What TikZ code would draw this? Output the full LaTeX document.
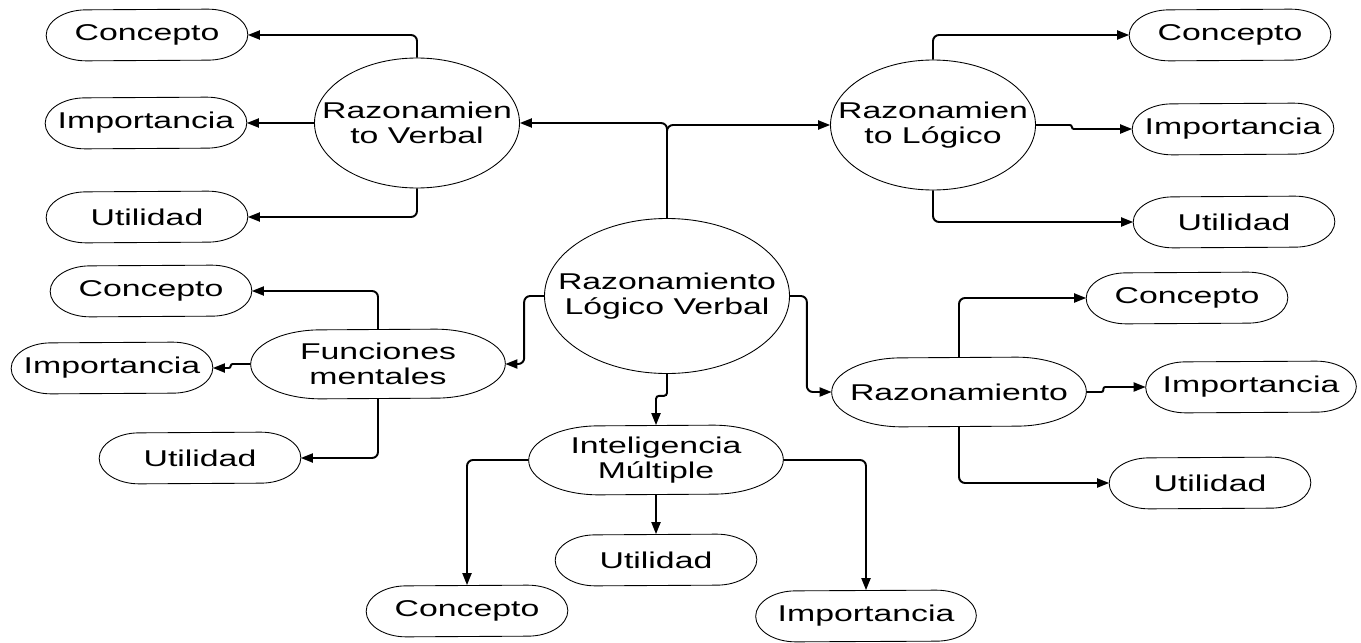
\documentclass[tikz,border=0pt]{standalone}
\usepackage{fontspec}
\setmainfont[FakeStretch=1.48]{Liberation Sans}
\usetikzlibrary{arrows.meta,calc}
\newcommand{\leafrx}{40}
\newcommand{\leafry}{25.5}
% outline of a pill round a named node: node, end radius x, end radius y
\newcommand{\pill}[3]{%
\draw[outline] ($(#1.north east)+(-#2,0)$) arc[start angle=90, end angle=-90, x radius=#2, y radius=#3]
 -- ($(#1.south west)+(#2,0)$) arc[start angle=270, end angle=90, x radius=#2, y radius=#3] -- cycle;}

\begin{document}
\begin{tikzpicture}[x=0.02cm, y=0.02cm,
 every node/.style={font=\fontsize{13}{14.2}\selectfont, inner sep=0pt, align=center},
 leaf/.style={minimum width=4.02cm, minimum height=1.02cm},
 branch/.style={minimum width=5.08cm, minimum height=1.38cm},
 topic/.style={minimum width=4.1cm, minimum height=2.6cm},
 root/.style={minimum width=4.9cm, minimum height=3.1cm},
 outline/.style={line width=0.5pt},
 conn/.style={line width=1.1pt, rounded corners=0.12cm, -{Triangle[length=0.24cm, width=0.18cm]}}]
\useasboundingbox (0,0) rectangle (1361,-642);
% main ideas
\node[root] (lv) at (667,-296) {Razonamiento\\Lógico Verbal};
\node[topic] (rv) at (417,-123) {Razonamien\\to Verbal};
\node[topic] (rl) at (933,-125) {Razonamien\\to Lógico};
\node[branch] (fm) at (378,-364) {Funciones\\mentales};
\node[branch] (im) at (656,-460) {Inteligencia\\Múltiple};
\node[branch] (rz) at (959,-392) {Razonamiento};
% leaves
\node[leaf] (rvc) at (147,-35) {Concepto};
\node[leaf] (rvi) at (146,-123) {Importancia};
\node[leaf] (rvu) at (147,-217) {Utilidad};
\node[leaf] (rlc) at (1230,-35) {Concepto};
\node[leaf] (rli) at (1233,-129) {Importancia};
\node[leaf] (rlu) at (1234,-222) {Utilidad};
\node[leaf] (fmc) at (151,-291) {Concepto};
\node[leaf] (fmi) at (112,-368) {Importancia};
\node[leaf] (fmu) at (200,-458) {Utilidad};
\node[leaf] (rzc) at (1187,-298) {Concepto};
\node[leaf, minimum width=4.2cm] (rzi) at (1251,-387) {Importancia};
\node[leaf] (rzu) at (1210,-483) {Utilidad};
\node[leaf] (imc) at (467,-611) {Concepto};
\node[leaf] (imu) at (656,-560) {Utilidad};
\node[leaf, minimum width=4.4cm] (imi) at (866,-616) {Importancia};
% outlines
\draw[outline] (lv.center) ellipse [x radius=122.5, y radius=77.5];
\draw[outline] (rv.center) ellipse [x radius=102.5, y radius=65];
\draw[outline] (rl.center) ellipse [x radius=102.5, y radius=65];
\pill{fm}{70}{34.5}
\pill{im}{70}{34.5}
\pill{rz}{70}{34.5}
\foreach \n in {rvc,rvi,rvu,rlc,rli,rlu,fmc,fmi,fmu,rzc,rzi,rzu,imc,imu,imi}
  \pill{\n}{\leafrx}{\leafry};
% connectors
\draw[conn] (lv.north) |- (rv.east);
\draw[conn] (lv.north) |- (rl.west);
\draw[conn] (lv.west) -- ++(-20,0) |- (fm.east);
\draw[conn] (lv.east) -- ++(17,0) |- (rz.west);
\draw[conn, rounded corners=0.06cm] (lv.south) -- ++(0,-22) -| (im.north);
\draw[conn] (rv.north) |- (rvc.east);
\draw[conn] (rv.west) -- (rvi.east);
\draw[conn] (rv.south) |- (rvu.east);
\draw[conn] (rl.north) |- (rlc.west);
\draw[conn, rounded corners=0.04cm] (rl.east) -- ++(36,0) |- (rli.west);
\draw[conn] (rl.south) |- (rlu.west);
\draw[conn] (fm.north) |- (fmc.east);
\draw[conn, rounded corners=0.04cm] (fm.west) -- ++(-20,0) |- (fmi.east);
\draw[conn] (fm.south) |- (fmu.east);
\draw[conn] (im.west) -| (imc.north);
\draw[conn] (im.south) -- (imu.north);
\draw[conn] (im.east) -| (imi.north);
\draw[conn] (rz.north) |- (rzc.west);
\draw[conn, rounded corners=0.04cm] (rz.east) -- ++(17,0) |- (rzi.west);
\draw[conn] (rz.south) |- (rzu.west);
\end{tikzpicture}
\end{document}
